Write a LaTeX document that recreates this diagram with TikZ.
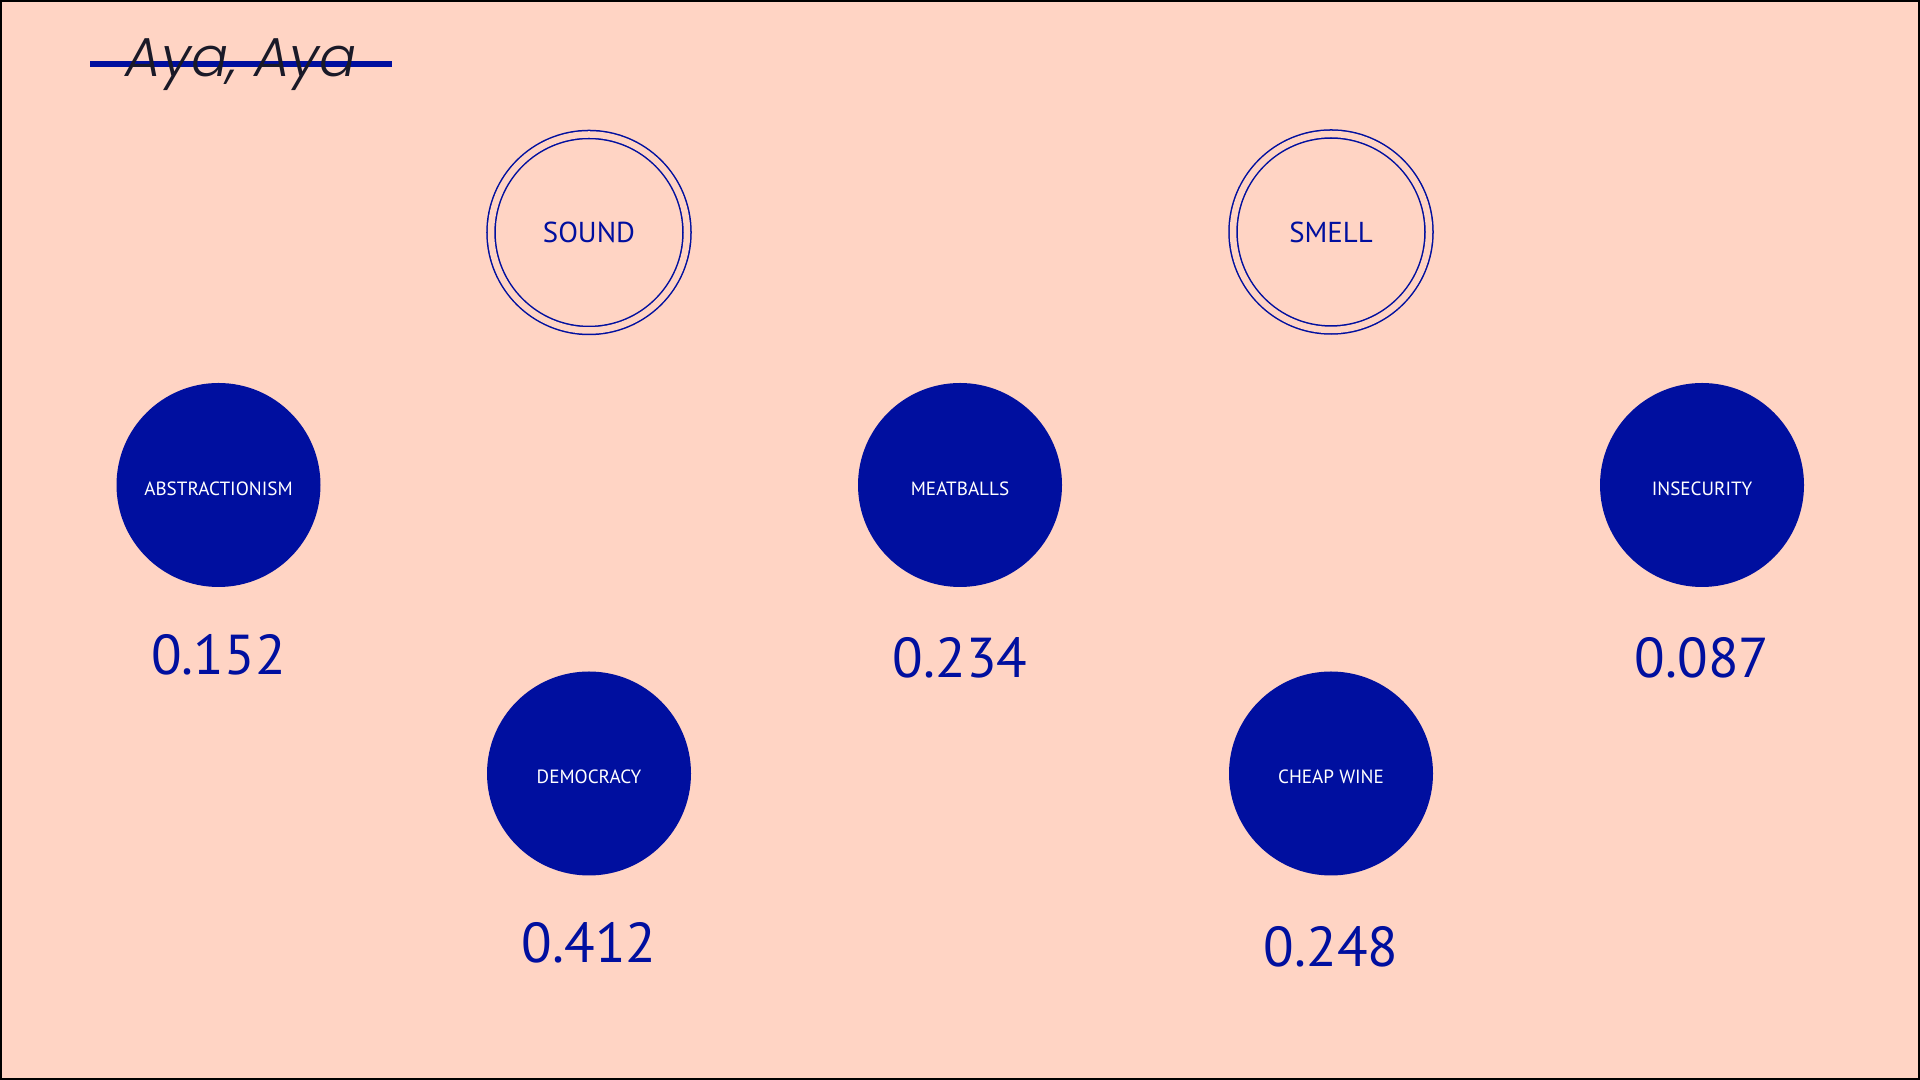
\documentclass[tikz,border=0pt]{standalone}
\usepackage{fontspec}
\setmainfont{PT Sans}
\newfontfamily\titlefont{Poppins}[UprightFont=* Light, ItalicFont=* Light Italic]
\definecolor{peach}{HTML}{FFD4C4}
\definecolor{inkblue}{HTML}{000F9F}
\definecolor{ink}{HTML}{1A1A28}
\tikzset{
  sense/.style={circle, draw=inkblue, line width=.43pt, double=peach,
    double distance=1.85pt, minimum size=1.96cm, inner sep=0pt,
    text=inkblue, font=\fontsize{8.2}{10}\selectfont},
  topic/.style={circle, fill=inkblue, minimum size=2.04cm, inner sep=0pt,
    text height=5.8pt, text depth=0pt,
    text=white, font=\fontsize{5.45}{7}\selectfont},
  score/.style={anchor=base, text=inkblue, font=\fontsize{16}{18}\selectfont},
}
\begin{document}
\begin{tikzpicture}
  \useasboundingbox (0,0) rectangle (19.2,10.8);
  \draw[fill=peach,line width=1.1pt] (0,0) rectangle (19.2,10.8);
  % title, struck through
  \coordinate (strikeL) at (0.90,10.16);
  \coordinate (strikeR) at (3.92,10.16);
  \draw[inkblue,line width=1.7pt] (strikeL) -- (strikeR);
  \node[anchor=base west,inner sep=0pt,text=ink,
    font=\titlefont\itshape\fontsize{15.6}{18}\selectfont]
    (title) at (1.25,10.03) {Aya, Aya};
  % senses
  \node[sense] (sound) at (5.89,8.475) {SOUND};
  \node[sense] (smell) at (13.31,8.48) {SMELL};
  % topics
  \node[topic] (abstr) at (2.185,5.95) {ABSTRACTIONISM};
  \node[topic] (meat) at (9.60,5.95) {MEATBALLS};
  \node[topic] (insec) at (17.02,5.95) {INSECURITY};
  \node[topic] (democ) at (5.89,3.065) {DEMOCRACY};
  \node[topic] (wine) at (13.31,3.065) {CHEAP WINE};
  % scores
  \node[score] (abstrval) at (2.185,4.05) {0.152};
  \node[score] (meatval) at (9.60,4.02) {0.234};
  \node[score] (insecval) at (17.02,4.02) {0.087};
  \node[score] (democval) at (5.89,1.17) {0.412};
  \node[score] (wineval) at (13.31,1.13) {0.248};
\end{tikzpicture}
\end{document}
